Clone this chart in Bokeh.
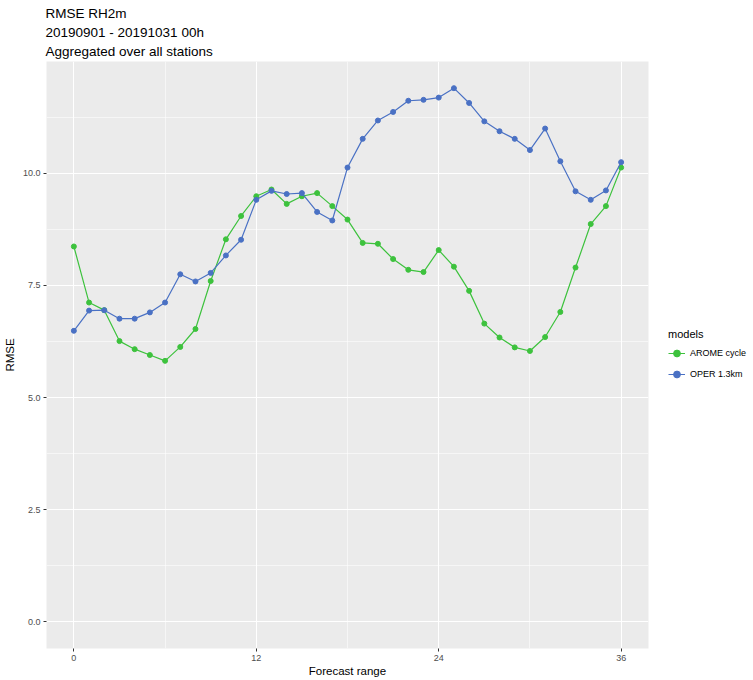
from bokeh.plotting import figure
from bokeh.models import (FixedTicker, PrintfTickFormatter, Legend, LegendItem,
                          ColumnDataSource, Range1d)
from bokeh.embed import file_html
from bokeh.resources import INLINE

# Forecast lead times (hours)
hours = list(range(0, 37))

# RMSE of 2 m relative humidity per lead time
arome_cycle = [8.37, 7.12, 6.95, 6.26, 6.08, 5.95, 5.82, 6.13, 6.53, 7.60,
               8.53, 9.05, 9.49, 9.64, 9.32, 9.49, 9.56, 9.27, 8.97, 8.45,
               8.43, 8.09, 7.85, 7.80, 8.29, 7.92, 7.38, 6.65, 6.34, 6.12,
               6.04, 6.35, 6.91, 7.90, 8.87, 9.27, 10.13]
oper_13km = [6.49, 6.94, 6.95, 6.76, 6.76, 6.90, 7.12, 7.75, 7.59, 7.78,
             8.17, 8.52, 9.41, 9.61, 9.54, 9.56, 9.14, 8.95, 10.13, 10.77,
             11.18, 11.37, 11.62, 11.64, 11.69, 11.90, 11.57, 11.16, 10.94, 10.77,
             10.52, 11.00, 10.27, 9.60, 9.41, 9.62, 10.25]

model_names = ["AROME cycle", "OPER 1.3km"]
model_colors = ["#3DC23D", "#4A71C4"]

x_ticks = [0, 12, 24, 36]
x_minor = [6, 18, 30]
y_ticks = [0.0, 2.5, 5.0, 7.5, 10.0]
y_minor = [1.25, 3.75, 6.25, 8.75, 11.25]

FONT = "Liberation Sans"

ymax = max(max(arome_cycle), max(oper_13km))
pad_y = 0.05 * ymax
pad_x = 0.05 * (hours[-1] - hours[0])

p = figure(frame_width=602, frame_height=587, output_backend="svg",
           toolbar_location=None,
           x_range=Range1d(hours[0] - pad_x, hours[-1] + pad_x),
           y_range=Range1d(0 - pad_y, ymax + pad_y),
           title="RMSE RH2m\n20190901 - 20191031 00h\nAggregated over all stations",
           min_border_left=45, min_border_right=0, min_border_top=60,
           min_border_bottom=30)

p.title.text_font = FONT
p.title.text_font_size = "13.5px"
p.title.text_font_style = "normal"
p.title.text_color = "#000000"
p.title.align = "left"
p.title.offset = -1
p.title.standoff = 6
p.title.text_line_height = 1.25

p.background_fill_color = "#EBEBEB"
p.border_fill_color = "white"
p.outline_line_color = None

# Axes
p.xaxis.ticker = FixedTicker(ticks=x_ticks, minor_ticks=x_minor)
p.yaxis.ticker = FixedTicker(ticks=y_ticks, minor_ticks=y_minor)
p.yaxis.formatter = PrintfTickFormatter(format="%.1f")
p.xaxis.axis_label = "Forecast range"
p.yaxis.axis_label = "RMSE"
for ax in (p.xaxis, p.yaxis):
    ax.axis_line_color = None
    ax.major_tick_line_color = "#333333"
    ax.major_tick_out = 3
    ax.major_tick_in = 0
    ax.minor_tick_line_color = None
    ax.major_label_text_font = FONT
    ax.major_label_text_font_size = "9px"
    ax.major_label_text_color = "#4D4D4D"
    ax.major_label_standoff = 2
    ax.axis_label_text_font = FONT
    ax.axis_label_text_font_size = "11.5px"
    ax.axis_label_text_font_style = "normal"
    ax.axis_label_text_color = "#000000"
    ax.axis_label_standoff = 4
p.xaxis.axis_label_standoff = 1

# Grid
p.grid.grid_line_color = "white"
p.grid.grid_line_width = 1.1
p.grid.minor_grid_line_color = "white"
p.grid.minor_grid_line_width = 0.55

series = [arome_cycle, oper_13km]
items = []
for name, vals, col in zip(model_names, series, model_colors):
    src = ColumnDataSource(dict(h=hours, v=vals))
    ln = p.line("h", "v", source=src, line_color=col, line_width=1.2)
    sc = p.scatter("h", "v", source=src, size=5, fill_color=col, line_color=col)
    items.append(LegendItem(label=name, renderers=[ln, sc]))

legend = Legend(items=items, title="models", location="center_left",
                title_text_font=FONT, title_text_font_size="11px",
                title_text_font_style="normal",
                title_text_color="#000000", title_standoff=5,
                label_text_font=FONT, label_text_font_size="9px",
                label_text_color="#000000", label_standoff=5,
                glyph_width=17, glyph_height=17, spacing=4,
                padding=0, margin=20, border_line_color=None,
                background_fill_alpha=0)
p.add_layout(legend, "right")

open("out.html", "w").write(file_html(p, INLINE))
